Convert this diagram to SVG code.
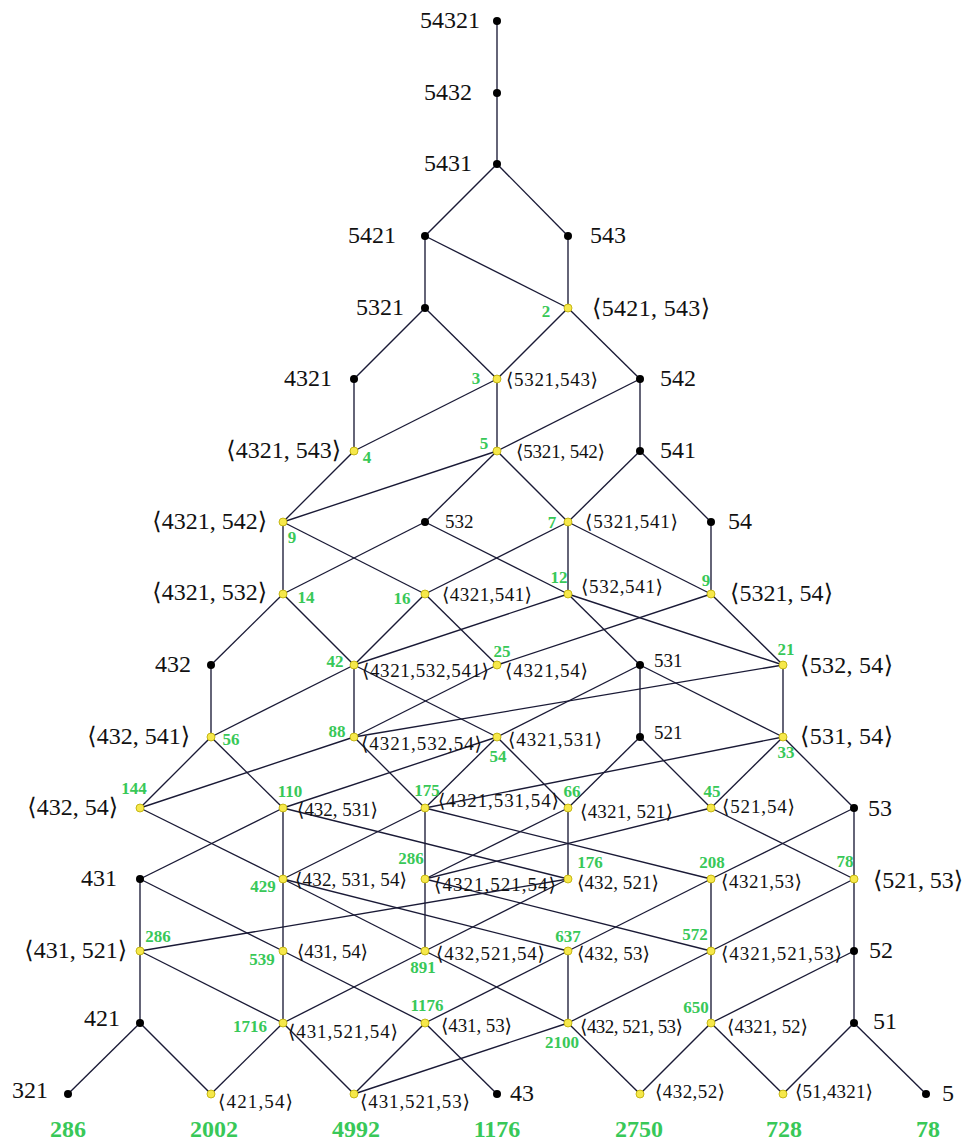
<svg xmlns="http://www.w3.org/2000/svg" width="966" height="1142" viewBox="0 0 966 1142">
<style>
.e line{stroke:#1a1a36;stroke-width:1.35;fill:none}
.b{fill:#000}
.y{fill:#f6e84a;stroke:#b9a900;stroke-width:0.8}
.L{font-family:"Liberation Serif","DejaVu Serif",serif;font-size:24px;fill:#111}
.S{font-family:"Liberation Serif","DejaVu Serif",serif;font-size:19px;fill:#111}
.g{font-family:"Liberation Serif","DejaVu Serif",serif;font-size:17px;font-weight:bold;fill:#38c858;text-anchor:middle}
.G{font-family:"Liberation Serif","DejaVu Serif",serif;font-size:24px;font-weight:bold;fill:#38c858;text-anchor:middle}
.r{text-anchor:end}
</style>
<rect width="966" height="1142" fill="#fff"/>
<g id="edges" class="e">
<line x1="497" y1="21" x2="497" y2="93"/>
<line x1="497" y1="93" x2="497" y2="164"/>
<line x1="497" y1="164" x2="425" y2="236"/>
<line x1="497" y1="164" x2="568" y2="236"/>
<line x1="425" y1="236" x2="425" y2="308"/>
<line x1="425" y1="236" x2="568" y2="308"/>
<line x1="568" y1="236" x2="568" y2="308"/>
<line x1="425" y1="308" x2="354" y2="379"/>
<line x1="425" y1="308" x2="497" y2="379"/>
<line x1="568" y1="308" x2="497" y2="379"/>
<line x1="568" y1="308" x2="640" y2="379"/>
<line x1="354" y1="379" x2="354" y2="451"/>
<line x1="497" y1="379" x2="354" y2="451"/>
<line x1="497" y1="379" x2="497" y2="451"/>
<line x1="640" y1="379" x2="497" y2="451"/>
<line x1="640" y1="379" x2="640" y2="451"/>
<line x1="354" y1="451" x2="283" y2="522"/>
<line x1="497" y1="451" x2="283" y2="522"/>
<line x1="497" y1="451" x2="425" y2="522"/>
<line x1="497" y1="451" x2="568" y2="522"/>
<line x1="640" y1="451" x2="568" y2="522"/>
<line x1="640" y1="451" x2="711" y2="522"/>
<line x1="283" y1="522" x2="283" y2="594"/>
<line x1="283" y1="522" x2="425" y2="594"/>
<line x1="425" y1="522" x2="283" y2="594"/>
<line x1="425" y1="522" x2="568" y2="594"/>
<line x1="568" y1="522" x2="425" y2="594"/>
<line x1="568" y1="522" x2="568" y2="594"/>
<line x1="568" y1="522" x2="711" y2="594"/>
<line x1="711" y1="522" x2="711" y2="594"/>
<line x1="283" y1="594" x2="211" y2="665"/>
<line x1="283" y1="594" x2="354" y2="665"/>
<line x1="425" y1="594" x2="354" y2="665"/>
<line x1="425" y1="594" x2="497" y2="665"/>
<line x1="568" y1="594" x2="354" y2="665"/>
<line x1="568" y1="594" x2="640" y2="665"/>
<line x1="568" y1="594" x2="783" y2="665"/>
<line x1="711" y1="594" x2="497" y2="665"/>
<line x1="711" y1="594" x2="783" y2="665"/>
<line x1="211" y1="665" x2="211" y2="737"/>
<line x1="354" y1="665" x2="211" y2="737"/>
<line x1="354" y1="665" x2="497" y2="737"/>
<line x1="354" y1="665" x2="354" y2="737"/>
<line x1="497" y1="665" x2="354" y2="737"/>
<line x1="640" y1="665" x2="497" y2="737"/>
<line x1="640" y1="665" x2="783" y2="737"/>
<line x1="640" y1="665" x2="640" y2="737"/>
<line x1="783" y1="665" x2="354" y2="737"/>
<line x1="783" y1="665" x2="783" y2="737"/>
<line x1="211" y1="737" x2="283" y2="808"/>
<line x1="211" y1="737" x2="140" y2="808"/>
<line x1="354" y1="737" x2="140" y2="808"/>
<line x1="354" y1="737" x2="425" y2="808"/>
<line x1="497" y1="737" x2="283" y2="808"/>
<line x1="497" y1="737" x2="425" y2="808"/>
<line x1="497" y1="737" x2="568" y2="808"/>
<line x1="640" y1="737" x2="568" y2="808"/>
<line x1="640" y1="737" x2="711" y2="808"/>
<line x1="783" y1="737" x2="425" y2="808"/>
<line x1="783" y1="737" x2="711" y2="808"/>
<line x1="783" y1="737" x2="854" y2="808"/>
<line x1="140" y1="808" x2="283" y2="879"/>
<line x1="283" y1="808" x2="140" y2="879"/>
<line x1="283" y1="808" x2="283" y2="879"/>
<line x1="283" y1="808" x2="568" y2="879"/>
<line x1="425" y1="808" x2="283" y2="879"/>
<line x1="425" y1="808" x2="425" y2="879"/>
<line x1="425" y1="808" x2="711" y2="879"/>
<line x1="568" y1="808" x2="568" y2="879"/>
<line x1="568" y1="808" x2="425" y2="879"/>
<line x1="711" y1="808" x2="425" y2="879"/>
<line x1="711" y1="808" x2="854" y2="879"/>
<line x1="854" y1="808" x2="711" y2="879"/>
<line x1="854" y1="808" x2="854" y2="879"/>
<line x1="140" y1="879" x2="283" y2="951"/>
<line x1="140" y1="879" x2="140" y2="951"/>
<line x1="283" y1="879" x2="283" y2="951"/>
<line x1="283" y1="879" x2="425" y2="951"/>
<line x1="283" y1="879" x2="568" y2="951"/>
<line x1="425" y1="879" x2="425" y2="951"/>
<line x1="425" y1="879" x2="711" y2="951"/>
<line x1="568" y1="879" x2="140" y2="951"/>
<line x1="568" y1="879" x2="425" y2="951"/>
<line x1="711" y1="879" x2="568" y2="951"/>
<line x1="711" y1="879" x2="711" y2="951"/>
<line x1="854" y1="879" x2="711" y2="951"/>
<line x1="854" y1="879" x2="854" y2="951"/>
<line x1="140" y1="951" x2="283" y2="1023"/>
<line x1="140" y1="951" x2="140" y2="1023"/>
<line x1="283" y1="951" x2="283" y2="1023"/>
<line x1="283" y1="951" x2="425" y2="1023"/>
<line x1="425" y1="951" x2="283" y2="1023"/>
<line x1="425" y1="951" x2="568" y2="1023"/>
<line x1="568" y1="951" x2="425" y2="1023"/>
<line x1="568" y1="951" x2="568" y2="1023"/>
<line x1="711" y1="951" x2="568" y2="1023"/>
<line x1="711" y1="951" x2="711" y2="1023"/>
<line x1="854" y1="951" x2="711" y2="1023"/>
<line x1="854" y1="951" x2="854" y2="1023"/>
<line x1="140" y1="1023" x2="211" y2="1094"/>
<line x1="140" y1="1023" x2="68" y2="1094"/>
<line x1="283" y1="1023" x2="211" y2="1094"/>
<line x1="283" y1="1023" x2="354" y2="1094"/>
<line x1="425" y1="1023" x2="354" y2="1094"/>
<line x1="425" y1="1023" x2="497" y2="1094"/>
<line x1="568" y1="1023" x2="354" y2="1094"/>
<line x1="568" y1="1023" x2="640" y2="1094"/>
<line x1="711" y1="1023" x2="640" y2="1094"/>
<line x1="711" y1="1023" x2="783" y2="1094"/>
<line x1="854" y1="1023" x2="783" y2="1094"/>
<line x1="854" y1="1023" x2="926" y2="1094"/>
</g>
<g id="n54321"><circle class="b" cx="497" cy="21" r="4"/><text class="L r" x="480" y="28">54321</text></g>
<g id="n5432"><circle class="b" cx="497" cy="93" r="4"/><text class="L r" x="472" y="100">5432</text></g>
<g id="n5431"><circle class="b" cx="497" cy="164" r="4"/><text class="L r" x="472" y="171">5431</text></g>
<g id="n5421"><circle class="b" cx="425" cy="236" r="4"/><text class="L r" x="396" y="243">5421</text></g>
<g id="n543"><circle class="b" cx="568" cy="236" r="4"/><text class="L" x="590" y="243">543</text></g>
<g id="n5321"><circle class="b" cx="425" cy="308" r="4"/><text class="L r" x="404" y="315">5321</text></g>
<g id="a5421_543"><circle class="y" cx="568" cy="308" r="4"/><text class="L" x="592" y="316" textLength="118">⟨5421, 543⟩</text><text class="g" x="546" y="317">2</text></g>
<g id="n4321"><circle class="b" cx="354" cy="379" r="4"/><text class="L r" x="332" y="386">4321</text></g>
<g id="a5321_543"><circle class="y" cx="497" cy="379" r="4"/><text class="S" x="506" y="386" textLength="92">⟨5321,543⟩</text><text class="g" x="476" y="384">3</text></g>
<g id="n542"><circle class="b" cx="640" cy="379" r="4"/><text class="L" x="660" y="386">542</text></g>
<g id="a4321_543"><circle class="y" cx="354" cy="451" r="4"/><text class="L r" x="341" y="458">⟨4321, 543⟩</text><text class="g" x="367" y="463">4</text></g>
<g id="a5321_542"><circle class="y" cx="497" cy="451" r="4"/><text class="S" x="516" y="458" textLength="89">⟨5321, 542⟩</text><text class="g" x="484" y="449">5</text></g>
<g id="n541"><circle class="b" cx="640" cy="451" r="4"/><text class="L" x="660" y="458">541</text></g>
<g id="a4321_542"><circle class="y" cx="283" cy="522" r="4"/><text class="L r" x="267" y="529">⟨4321, 542⟩</text><text class="g" x="292" y="543">9</text></g>
<g id="n532"><circle class="b" cx="425" cy="522" r="4"/><text class="S" x="445" y="528">532</text></g>
<g id="a5321_541"><circle class="y" cx="568" cy="522" r="4"/><text class="S" x="585" y="528" textLength="93">⟨5321,541⟩</text><text class="g" x="552" y="528">7</text></g>
<g id="n54"><circle class="b" cx="711" cy="522" r="4"/><text class="L" x="728" y="529">54</text></g>
<g id="a4321_532"><circle class="y" cx="283" cy="594" r="4"/><text class="L r" x="267" y="600">⟨4321, 532⟩</text><text class="g" x="306" y="603">14</text></g>
<g id="a4321_541"><circle class="y" cx="425" cy="594" r="4"/><text class="S" x="442" y="601" textLength="90">⟨4321,541⟩</text><text class="g" x="402" y="604">16</text></g>
<g id="a532_541"><circle class="y" cx="568" cy="594" r="4"/><text class="S" x="581" y="593" textLength="82">⟨532,541⟩</text><text class="g" x="559" y="583">12</text></g>
<g id="a5321_54"><circle class="y" cx="711" cy="594" r="4"/><text class="L" x="730" y="601" textLength="103">⟨5321, 54⟩</text><text class="g" x="706" y="586">9</text></g>
<g id="n432"><circle class="b" cx="211" cy="665" r="4"/><text class="L r" x="191" y="672">432</text></g>
<g id="a4321_532_541"><circle class="y" cx="354" cy="665" r="4"/><text class="S" x="362" y="677" textLength="127">⟨4321,532,541⟩</text><text class="g" x="335" y="667">42</text></g>
<g id="a4321_54"><circle class="y" cx="497" cy="665" r="4"/><text class="S" x="505" y="677" textLength="83">⟨4321,54⟩</text><text class="g" x="502" y="657">25</text></g>
<g id="n531"><circle class="b" cx="640" cy="665" r="4"/><text class="S" x="654" y="667">531</text></g>
<g id="a532_54"><circle class="y" cx="783" cy="665" r="4"/><text class="L" x="800" y="673" textLength="93">⟨532, 54⟩</text><text class="g" x="786" y="655">21</text></g>
<g id="a432_541"><circle class="y" cx="211" cy="737" r="4"/><text class="L r" x="190" y="744">⟨432, 541⟩</text><text class="g" x="231" y="745">56</text></g>
<g id="a4321_532_54"><circle class="y" cx="354" cy="737" r="4"/><text class="S" x="361" y="750" textLength="121">⟨4321,532,54⟩</text><text class="g" x="337" y="737">88</text></g>
<g id="a4321_531"><circle class="y" cx="497" cy="737" r="4"/><text class="S" x="508" y="746" textLength="94">⟨4321,531⟩</text><text class="g" x="498" y="762">54</text></g>
<g id="n521"><circle class="b" cx="640" cy="737" r="4"/><text class="S" x="654" y="739">521</text></g>
<g id="a531_54"><circle class="y" cx="783" cy="737" r="4"/><text class="L" x="800" y="744" textLength="93">⟨531, 54⟩</text><text class="g" x="786" y="758">33</text></g>
<g id="a432_54"><circle class="y" cx="140" cy="808" r="4"/><text class="L r" x="118" y="815">⟨432, 54⟩</text><text class="g" x="134" y="794">144</text></g>
<g id="a432_531"><circle class="y" cx="283" cy="808" r="4"/><text class="S" x="297" y="816" textLength="81">⟨432, 531⟩</text><text class="g" x="290" y="797">110</text></g>
<g id="a4321_531_54"><circle class="y" cx="425" cy="808" r="4"/><text class="S" x="438" y="807" textLength="121">⟨4321,531,54⟩</text><text class="g" x="427" y="796">175</text></g>
<g id="a4321_521"><circle class="y" cx="568" cy="808" r="4"/><text class="S" x="580" y="818" textLength="93">⟨4321, 521⟩</text><text class="g" x="572" y="797">66</text></g>
<g id="a521_54"><circle class="y" cx="711" cy="808" r="4"/><text class="S" x="722" y="813" textLength="73">⟨521,54⟩</text><text class="g" x="712" y="797">45</text></g>
<g id="n53"><circle class="b" cx="854" cy="808" r="4"/><text class="L" x="868" y="816">53</text></g>
<g id="n431"><circle class="b" cx="140" cy="879" r="4"/><text class="L r" x="117" y="886">431</text></g>
<g id="a432_531_54"><circle class="y" cx="283" cy="879" r="4"/><text class="S" x="295" y="886" textLength="112">⟨432, 531, 54⟩</text><text class="g" x="263" y="892">429</text></g>
<g id="a4321_521_54"><circle class="y" cx="425" cy="879" r="4"/><text class="S" x="434" y="891" textLength="122">⟨4321,521,54⟩</text><text class="g" x="411" y="864">286</text></g>
<g id="a432_521"><circle class="y" cx="568" cy="879" r="4"/><text class="S" x="577" y="889" textLength="82">⟨432, 521⟩</text><text class="g" x="590" y="868">176</text></g>
<g id="a4321_53"><circle class="y" cx="711" cy="879" r="4"/><text class="S" x="721" y="888" textLength="81">⟨4321,53⟩</text><text class="g" x="712" y="868">208</text></g>
<g id="a521_53"><circle class="y" cx="854" cy="879" r="4"/><text class="L" x="873" y="888" textLength="90">⟨521, 53⟩</text><text class="g" x="845" y="867">78</text></g>
<g id="a431_521"><circle class="y" cx="140" cy="951" r="4"/><text class="L r" x="127" y="958">⟨431, 521⟩</text><text class="g" x="158" y="942">286</text></g>
<g id="a431_54"><circle class="y" cx="283" cy="951" r="4"/><text class="S" x="297" y="958" textLength="71">⟨431, 54⟩</text><text class="g" x="262" y="965">539</text></g>
<g id="a432_521_54"><circle class="y" cx="425" cy="951" r="4"/><text class="S" x="436" y="960" textLength="109">⟨432,521,54⟩</text><text class="g" x="423" y="973">891</text></g>
<g id="a432_53"><circle class="y" cx="568" cy="951" r="4"/><text class="S" x="577" y="960" textLength="73">⟨432, 53⟩</text><text class="g" x="568" y="942">637</text></g>
<g id="a4321_521_53"><circle class="y" cx="711" cy="951" r="4"/><text class="S" x="721" y="960" textLength="121">⟨4321,521,53⟩</text><text class="g" x="695" y="940">572</text></g>
<g id="n52"><circle class="b" cx="854" cy="951" r="4"/><text class="L" x="869" y="958">52</text></g>
<g id="n421"><circle class="b" cx="140" cy="1023" r="4"/><text class="L r" x="120" y="1026">421</text></g>
<g id="a431_521_54"><circle class="y" cx="283" cy="1023" r="4"/><text class="S" x="288" y="1038" textLength="110">⟨431,521,54⟩</text><text class="g" x="250" y="1032">1716</text></g>
<g id="a431_53"><circle class="y" cx="425" cy="1023" r="4"/><text class="S" x="441" y="1032" textLength="71">⟨431, 53⟩</text><text class="g" x="427" y="1011">1176</text></g>
<g id="a432_521_53"><circle class="y" cx="568" cy="1023" r="4"/><text class="S" x="580" y="1033" textLength="103">⟨432, 521, 53⟩</text><text class="g" x="562" y="1048">2100</text></g>
<g id="a4321_52"><circle class="y" cx="711" cy="1023" r="4"/><text class="S" x="727" y="1033" textLength="81">⟨4321, 52⟩</text><text class="g" x="696" y="1013">650</text></g>
<g id="n51"><circle class="b" cx="854" cy="1023" r="4"/><text class="L" x="873" y="1029">51</text></g>
<g id="n321"><circle class="b" cx="68" cy="1094" r="4"/><text class="L r" x="48" y="1098">321</text><text class="G" x="68" y="1137">286</text></g>
<g id="a421_54"><circle class="y" cx="211" cy="1094" r="4"/><text class="S" x="218" y="1108" textLength="75">⟨421,54⟩</text><text class="G" x="214" y="1137">2002</text></g>
<g id="a431_521_53"><circle class="y" cx="354" cy="1094" r="4"/><text class="S" x="360" y="1108" textLength="110">⟨431,521,53⟩</text><text class="G" x="356" y="1137">4992</text></g>
<g id="n43"><circle class="b" cx="497" cy="1094" r="4"/><text class="L" x="510" y="1101">43</text><text class="G" x="497" y="1137">1176</text></g>
<g id="a432_52"><circle class="y" cx="640" cy="1094" r="4"/><text class="S" x="655" y="1098" textLength="70">⟨432,52⟩</text><text class="G" x="639" y="1137">2750</text></g>
<g id="a51_4321"><circle class="y" cx="783" cy="1094" r="4"/><text class="S" x="795" y="1098" textLength="78">⟨51,4321⟩</text><text class="G" x="784" y="1137">728</text></g>
<g id="n5"><circle class="b" cx="926" cy="1094" r="4"/><text class="L" x="942" y="1101">5</text><text class="G" x="928" y="1137">78</text></g>
</svg>
